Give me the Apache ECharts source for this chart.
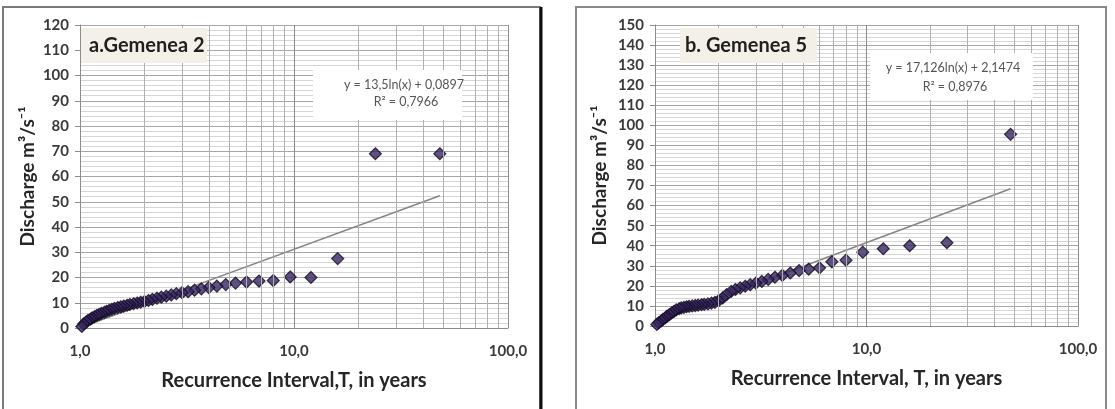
<!DOCTYPE html>
<html>
<head>
<meta charset="utf-8">
<script src="https://cdn.jsdelivr.net/npm/echarts@6/dist/echarts.min.js"></script>
<style>
html,body{margin:0;padding:0;background:#fff;}
#chart{width:1115px;height:409px;}
</style>
</head>
<body>
<div id="chart"></div>
<script>
// Recurrence interval T (years), rank order
const recurrenceT = [48,24,16,12,9.6,8,6.86,6,5.33,4.8,4.36,4,3.69,3.43,3.2,3,2.82,2.67,2.53,2.4,2.29,2.18,2.09,2,1.92,1.85,1.78,1.71,1.66,1.6,1.55,1.5,1.45,1.41,1.37,1.33,1.3,1.26,1.23,1.2,1.17,1.14,1.12,1.09,1.07,1.04,1.02];
// Discharge, panel a (Gemenea 2)
const dischargeA = [69,69,27.5,20,20.2,18.8,18.6,18.2,17.8,17.2,16.6,16,15.5,15,14.4,14,13.6,13.1,12.6,12.2,11.8,11.3,10.9,10.5,10.2,9.9,9.6,9.3,9.0,8.7,8.4,8.1,7.8,7.4,7.0,6.6,6.2,5.8,5.4,5.0,4.5,4.0,3.5,3.0,2.4,1.6,0.6];
// Discharge, panel b (Gemenea 5)
const dischargeB = [95.5,41.5,40,38.5,36.8,32.8,32,29,28.3,27.6,26.4,25.2,24.3,23.2,22.2,21.4,20.6,19.8,19,18.2,17.2,15.6,14,12.6,11.8,11.4,11,10.8,10.6,10.4,10.2,10,9.8,9.6,9.3,9,8.6,8,7.3,6.5,5.7,4.9,4.1,3.3,2.5,1.6,0.8];
// Trend line end points
const trendA = [[1.02, 0.36], [48, 52.4]];
const trendB = [[1.02, 2.49], [48, 68.4]];
// Log minor grid values
const logMinorGrid = [2,3,4,5,6,7,8,9,20,30,40,50,60,70,80,90];
const titleA = 'a.Gemenea 2';
const titleB = 'b. Gemenea 5';
const eqA = ['y = 13,5ln(x) + 0,0897', 'R² = 0,7966'];
const eqB = ['y = 17,126ln(x) + 2,1474', 'R² = 0,8976'];
const yMaxA = 120, yMaxB = 150;

const FONT = 'Lato';
const chart = echarts.init(document.getElementById('chart'), null, {renderer:'canvas'});

function pairs(xs, ys){ return xs.map((x,i)=>[x, ys[i]]); }

function xAxisCfg(idx, name){
  return {
    type:'log', logBase:10, min:1, max:100, gridIndex:idx,
    name:name, nameLocation:'middle', nameGap:43,
    nameTextStyle:{fontFamily:FONT, fontWeight:'bold', fontSize:20, color:'#262626'},
    axisLine:{show:true, onZero:false, lineStyle:{color:'#8c8c8c', width:1}},
    axisTick:{show:false},
    axisLabel:{fontFamily:FONT, fontWeight:'bold', fontSize:15, color:'#3a3a3a', margin:16,
      formatter:v=>v.toFixed(1).replace('.', ',')},
    splitLine:{show:true, lineStyle:{color:'#8c8c8c', width:1}},
    minorTick:{show:false}, minorSplitLine:{show:false}
  };
}
function yAxisCfg(idx, max, gap){
  return {
    type:'value', min:0, max:max, interval:10, gridIndex:idx,
    name:'Discharge m³/s⁻¹', nameLocation:'middle', nameGap:gap,
    nameTextStyle:{fontFamily:FONT, fontWeight:'bold', fontSize:19, color:'#262626'},
    axisLine:{show:true, lineStyle:{color:'#8c8c8c', width:1}},
    axisTick:{show:true, length:5, lineStyle:{color:'#8c8c8c'}},
    axisLabel:{fontFamily:FONT, fontWeight:'bold', fontSize:15, color:'#3a3a3a', margin:11},
    splitLine:{show:true, lineStyle:{color:'#a6a6a6', width:1}},
    minorTick:{show:false, splitNumber:5},
    minorSplitLine:{show:true, lineStyle:{color:'#d6d6d6', width:1}}
  };
}
function gridSeries(idx){
  return {
    type:'line', xAxisIndex:idx, yAxisIndex:idx, data:[], silent:true, z:1,
    markLine:{silent:true, symbol:'none', animation:false,
      label:{show:false},
      lineStyle:{color:'#b0b0b0', width:1, type:'solid'},
      data: logMinorGrid.map(v=>({xAxis:v}))}
  };
}
function trendSeries(idx, d){
  return {type:'line', xAxisIndex:idx, yAxisIndex:idx, data:d, symbol:'none', z:2,
    lineStyle:{color:'#868686', width:1.5}, animation:false};
}
function scatterSeries(idx, d){
  return {type:'scatter', xAxisIndex:idx, yAxisIndex:idx, data:d, symbol:'diamond', symbolSize:12, z:3,
    itemStyle:{color:'#372560', borderColor:'#150d24', borderWidth:1.2}, animation:false};
}
function box(x, y, w, h, fill){
  return {type:'rect', shape:{x:x, y:y, width:w, height:h}, style:{fill:fill}, z:50, silent:true};
}
function txt(x, y, s, size, weight, color, align){
  return {type:'text', x:x, y:y, z:51, silent:true,
    style:{text:s, font: weight+' '+size+'px '+FONT, fill:color, align:align||'left', verticalAlign:'middle'}};
}

chart.setOption({
  animation:false,
  backgroundColor:'#ffffff',
  grid:[
    {left:80, top:25, width:428, height:303},
    {left:655, top:25, width:423, height:301}
  ],
  xAxis:[xAxisCfg(0,'Recurrence Interval,T, in years'), xAxisCfg(1,'Recurrence Interval, T, in years')],
  yAxis:[yAxisCfg(0, yMaxA, 43), yAxisCfg(1, yMaxB, 46)],
  series:[
    gridSeries(0), trendSeries(0, trendA), scatterSeries(0, pairs(recurrenceT, dischargeA)),
    gridSeries(1), trendSeries(1, trendB), scatterSeries(1, pairs(recurrenceT, dischargeB))
  ],
  graphic:[
    // panel frames
    {type:'rect', shape:{x:3, y:7, width:537, height:420}, style:{fill:'none', stroke:'#7a7a7a', lineWidth:2}, z:40, silent:true},
    {type:'line', shape:{x1:541, y1:7, x2:541, y2:409}, style:{stroke:'#111', lineWidth:3}, z:40, silent:true},
    {type:'rect', shape:{x:576, y:7, width:530, height:420}, style:{fill:'none', stroke:'#8a8a8a', lineWidth:2}, z:40, silent:true},
    // title boxes
    box(81, 28, 126, 35, '#f3f1e7'),
    txt(89, 46, titleA, 20, 'bold', '#1f1f1f'),
    box(680, 28, 137, 35, '#f3f1e7'),
    txt(685, 46, titleB, 20, 'bold', '#1f1f1f'),
    // equation boxes
    box(313, 70, 149, 50, '#ffffff'),
    txt(404, 85, eqA[0], 12.5, 'normal', '#555555', 'center'),
    txt(406, 102, eqA[1], 12.5, 'normal', '#555555', 'center'),
    box(870, 53, 163, 47, '#ffffff'),
    txt(953, 68, eqB[0], 12.5, 'normal', '#555555', 'center'),
    txt(955, 87, eqB[1], 12.5, 'normal', '#555555', 'center')
  ]
});
</script>
</body>
</html>
